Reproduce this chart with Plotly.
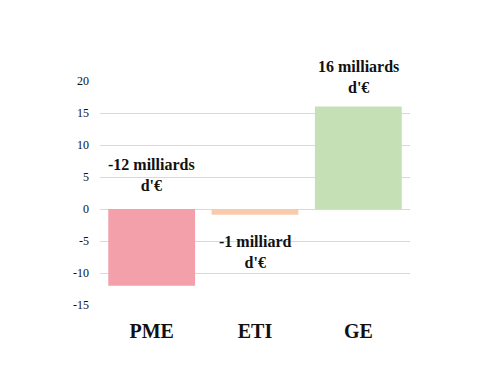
import plotly.graph_objects as go

categories = ["PME", "ETI", "GE"]
values = [-12, -0.9, 16]
labels = ["-12 milliards<br>d'€", "-1 milliard<br>d'€", "16 milliards<br>d'€"]
colors = ["#F4A0AA", "#F8CBAD", "#C5E0B4"]
yticks = [-15, -10, -5, 0, 5, 10, 15, 20]

fig = go.Figure(go.Bar(x=categories, y=values, marker=dict(color=colors, line=dict(width=0)),
                       width=0.84, hoverinfo="skip"))

font_fam = "Liberation Serif"
# PME label above zero line, ETI below its bar, GE above its bar
anchors = [(0, 34), (values[1], -37), (values[2], 30)]
for cat, lab, (yv, ys) in zip(categories, labels, anchors):
    fig.add_annotation(x=cat, y=yv, text="<b>" + lab + "</b>", showarrow=False,
                       yanchor="middle", yshift=ys,
                       font=dict(family=font_fam, size=16, color="#111"))

fig.update_layout(
    width=497, height=373,
    margin=dict(l=92, r=95, t=73, b=76),
    paper_bgcolor="white", plot_bgcolor="white",
    showlegend=False,
    xaxis=dict(showgrid=False, showline=False, zeroline=False, ticks="",
               tickmode="array", tickvals=categories,
               ticktext=["<b>" + c + "</b>" for c in categories],
               tickfont=dict(family=font_fam, size=20, color="#111"),
               ticklabelstandoff=12),
    yaxis=dict(range=[-15, 20], tickvals=yticks, ticktext=[str(v) for v in yticks],
               showgrid=True, gridcolor="#D9D9D9", gridwidth=1,
               zeroline=True, zerolinecolor="#D9D9D9", zerolinewidth=1,
               showline=False, ticks="",
               tickfont=dict(family=font_fam, size=12, color="#111"),
               ticklabelstandoff=10),
)
fig.write_html("out.html")
